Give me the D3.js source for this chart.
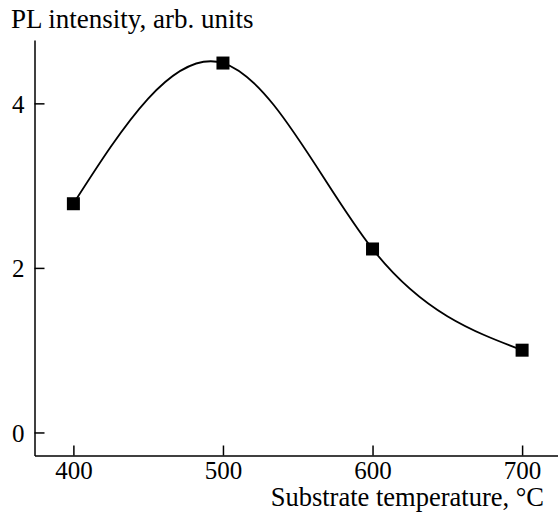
<!DOCTYPE html>
<html><head><meta charset="utf-8">
<script src="https://cdn.jsdelivr.net/npm/d3@7"></script>
<style>body{margin:0;background:#fff}svg{display:block}text{font-family:"Liberation Serif","Times New Roman",serif;fill:#000}</style>
</head><body>
<script>
const temps = [400, 500, 600, 700];
const intensity = [2.78, 4.49, 2.23, 1.0];
const xTicks = [400, 500, 600, 700];
const yTicks = [0, 2, 4];

const W = 558, H = 512;
const svg = d3.select("body").append("svg").attr("width", W).attr("height", H);
const x = d3.scaleLinear().domain([374, 724]).range([34.5, 558]);
const y = d3.scaleLinear().domain([-0.28, 4.77]).range([455.5, 40]);

const g = svg.append("g");
const xa = g.append("g").attr("transform", `translate(0,${y(-0.28)})`)
  .call(d3.axisBottom(x).tickValues(xTicks).tickFormat(d3.format("d")).tickSizeInner(-10).tickSizeOuter(0).tickPadding(14));
const ya = g.append("g").attr("transform", `translate(${x(374)},0)`)
  .call(d3.axisLeft(y).tickValues(yTicks).tickFormat(d3.format("d")).tickSizeInner(-10).tickSizeOuter(0).tickPadding(10));
[xa, ya].forEach(a => {
  a.attr("font-family", null).attr("font-size", null);
  a.select(".domain").attr("stroke", "#000").attr("stroke-width", 1.5);
  a.selectAll(".tick line").attr("stroke", "#000").attr("stroke-width", 1.5);
  a.selectAll(".tick text").style("font-size", "25px");
});
xa.selectAll(".tick text").attr("dy", null).attr("y", 0).attr("transform", "translate(0,23)");
ya.selectAll(".tick text").attr("dy", "0.35em");

const pts = temps.map((t, i) => [t, intensity[i]]);
g.append("path").datum(pts)
  .attr("fill", "none").attr("stroke", "#000").attr("stroke-width", 1.8)
  .attr("d", d3.line().x(d => x(d[0])).y(d => y(d[1])).curve(d3.curveNatural));

const s = 13;
g.selectAll("rect.pt").data(pts).enter().append("rect")
  .attr("x", d => x(d[0]) - s/2).attr("y", d => y(d[1]) - s/2)
  .attr("width", s).attr("height", s).attr("fill", "#000");

svg.append("text").attr("x", 11).attr("y", 28).style("font-size", "27px").text("PL intensity, arb. units");
svg.append("text").attr("x", 544).attr("y", 506).attr("text-anchor", "end").style("font-size", "26.5px").text("Substrate temperature, °C");
</script>
</body></html>
